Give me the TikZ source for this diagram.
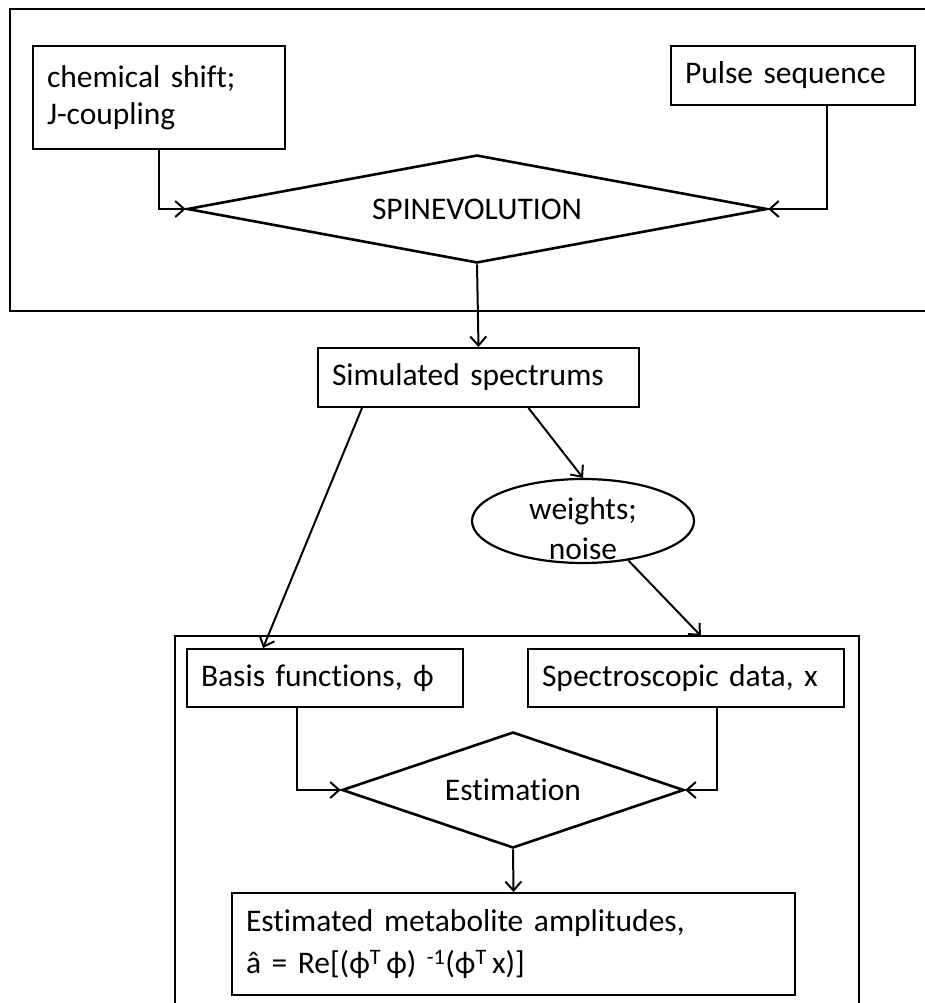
\documentclass[tikz,border=0pt]{standalone}
\usepackage{fontspec}
\setmainfont[Ligatures=NoCommon, WordSpace=0.8]{Carlito}
\usetikzlibrary{positioning,shapes.geometric,arrows.meta}

\begin{document}
\begin{tikzpicture}[x=1pt,y=-1pt,
    every node/.style={font=\fontsize{31.5}{37}\selectfont},
    box/.style={draw, line width=2pt, rectangle, align=left, inner xsep=14pt, inner ysep=0pt, anchor=north west},
    dmd/.style={draw, diamond, line width=2.6pt, inner sep=0pt},
    oval/.style={draw, ellipse, line width=2.2pt, inner sep=0pt, minimum width=222pt, minimum height=84pt},
    frame/.style={line width=2pt},
    conn/.style={line width=2pt, -{Straight Barb[length=9pt,width=16pt,line width=2pt]}}]
            \useasboundingbox (0,0) rectangle (925,1003);
            \clip (0,0) rectangle (925,1003);
            \draw[frame] (10,9) rectangle (945,311);
            \draw[frame] (175,636) rectangle (859,1020);
            \node[box, text width=224pt, minimum height=103pt] (chem) at (32,45){chemical shift;\\J-coupling};
            \node[box, text width=216pt, minimum height=59pt] (pulse) at (670,45){Pulse sequence};
            \node[dmd, aspect=5.4, minimum width=580pt, minimum height=108pt] (spin) at (477,209){SPINEVOLUTION};
            \node[box, text width=293pt, minimum height=59pt] (sim) at (317,347){Simulated spectrums};
            \node[oval] (wt) at (583,521){};
            \node[align=center, inner sep=0pt, font=\fontsize{31.5}{40}\selectfont] (wtext) at (583,529){weights;\\noise};
            \node[box, text width=248pt, minimum height=58pt] (basis) at (186,648){Basis functions, ϕ};
            \node[box, text width=288pt, minimum height=58pt] (spec) at (527,648){Spectroscopic data, x};
            \node[dmd, aspect=2.95, minimum width=342pt, minimum height=116pt] (est) at (513,790){Estimation};
            \node[box, text width=535pt, minimum height=102pt, font=\fontsize{31.5}{42}\selectfont] (final) at (231,892){Estimated metabolite amplitudes,\\â = Re[(ϕ\textsuperscript{T}\,ϕ) \textsuperscript{-1}(ϕ\textsuperscript{T}\,x)]};
            \draw[conn] (chem.south) |- (spin.west);
            \draw[conn] ([xshift=34pt]pulse.south) |- (spin.east);
            \draw[conn] (spin.south) -- (sim.north);
            \draw[conn] ([xshift=45pt]sim.south west) -- ([xshift=77pt]basis.north west);
            \draw[conn] ([xshift=50pt]sim.south) -- (wt.north);
            \draw[conn] (wt.-41) -- ([xshift=15pt,yshift=12pt]spec.north);
            \draw[conn] ([xshift=-28pt]basis.south) |- (est.west);
            \draw[conn] ([xshift=31pt]spec.south) |- (est.east);
            \draw[conn] (est.south) -- (final.north);
\end{tikzpicture}
\end{document}
